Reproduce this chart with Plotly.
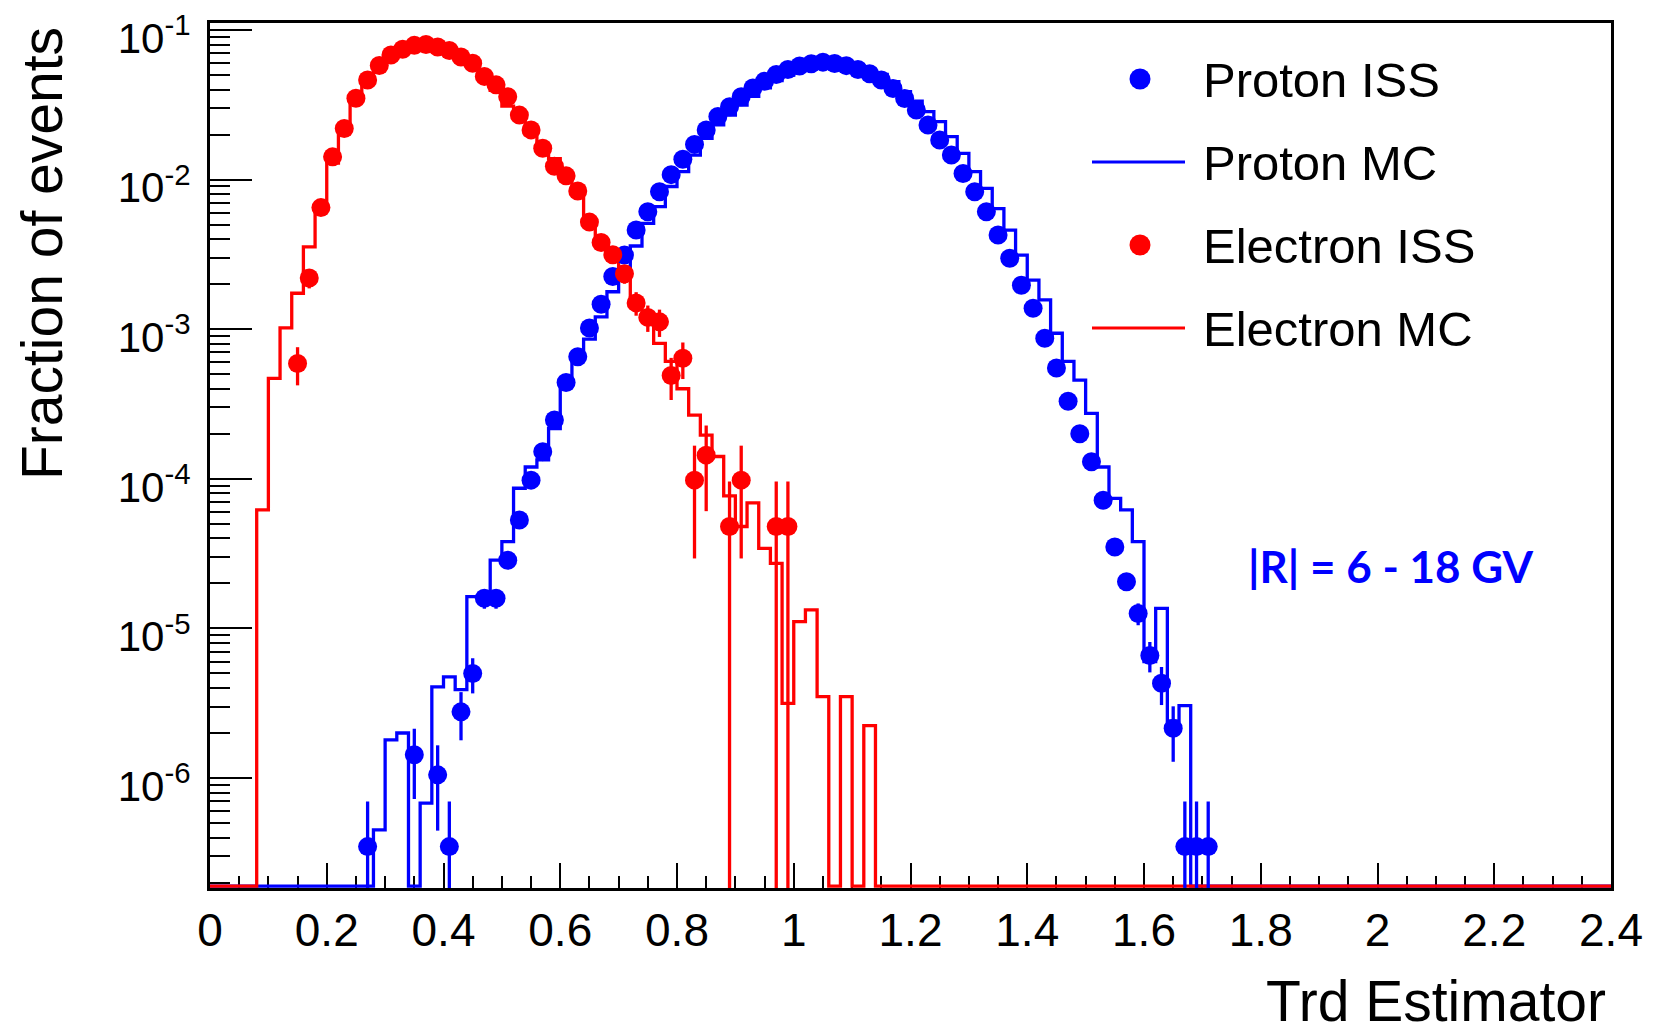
import numpy as np
import plotly.graph_objects as go

# binning of the Trd estimator histograms
BIN_W = 0.02
N_BINS = 120
edges = np.round(np.arange(N_BINS + 1) * BIN_W, 4)

# total events (sets the poisson error bars)
N_PROTON = 2.87e6
N_ELECTRON = 2.08e4

# --- Proton ISS (points at bin centres)
proton_iss_x = [0.27, 0.35, 0.39, 0.41, 0.43, 0.45, 0.47, 0.49, 0.51, 0.53, 0.55, 0.57, 0.59,
                0.61, 0.63, 0.65, 0.67, 0.69, 0.71, 0.73, 0.75, 0.77, 0.79, 0.81, 0.83, 0.85,
                0.87, 0.89, 0.91, 0.93, 0.95, 0.97, 0.99, 1.01, 1.03, 1.05, 1.07, 1.09, 1.11,
                1.13, 1.15, 1.17, 1.19, 1.21, 1.23, 1.25, 1.27, 1.29, 1.31, 1.33, 1.35, 1.37,
                1.39, 1.41, 1.43, 1.45, 1.47, 1.49, 1.51, 1.53, 1.55, 1.57, 1.59, 1.61, 1.63,
                1.65, 1.67, 1.69, 1.71]
proton_iss_y = [3.48e-7, 1.43e-6, 1.05e-6, 3.48e-7, 2.77e-6, 5.0e-6, 1.59e-5, 1.59e-5, 2.86e-5,
                5.3e-5, 9.8e-5, 1.52e-4, 2.47e-4, 4.4e-4, 6.55e-4, 1.02e-3, 1.47e-3, 2.25e-3,
                3.13e-3, 4.6e-3, 6.1e-3, 8.3e-3, 1.08e-2, 1.37e-2, 1.72e-2, 2.15e-2, 2.64e-2,
                3.07e-2, 3.58e-2, 4.1e-2, 4.55e-2, 5.05e-2, 5.45e-2, 5.75e-2, 5.95e-2, 6.1e-2,
                5.98e-2, 5.78e-2, 5.45e-2, 5.1e-2, 4.63e-2, 4.07e-2, 3.49e-2, 2.92e-2, 2.32e-2,
                1.84e-2, 1.46e-2, 1.10e-2, 8.3e-3, 6.1e-3, 4.27e-3, 2.98e-3, 1.97e-3, 1.38e-3,
                8.7e-4, 5.5e-4, 3.3e-4, 2.0e-4, 1.30e-4, 7.2e-5, 3.5e-5, 2.05e-5, 1.26e-5,
                6.6e-6, 4.3e-6, 2.15e-6, 3.48e-7, 3.48e-7, 3.48e-7]

# --- Proton MC (bin contents from 0.28 upward, zero elsewhere)
proton_mc_start = 0.28
proton_mc = [4.5e-7, 1.8e-6, 2.0e-6, 0, 6.8e-7, 4.07e-6, 4.75e-6, 3.9e-6, 1.63e-5, 1.63e-5,
             2.86e-5, 3.8e-5, 8.65e-5, 1.2e-4, 1.34e-4, 2.17e-4, 4.2e-4, 6.3e-4, 8.6e-4, 1.21e-3,
             1.78e-3, 2.6e-3, 3.6e-3, 5.1e-3, 6.6e-3, 9.0e-3, 1.13e-2, 1.46e-2, 1.89e-2, 2.32e-2,
             2.7e-2, 3.15e-2, 3.6e-2, 4.1e-2, 4.6e-2, 5.0e-2, 5.4e-2, 5.7e-2, 5.9e-2, 6.0e-2,
             5.95e-2, 5.75e-2, 5.45e-2, 5.05e-2, 4.52e-2, 3.87e-2, 3.35e-2, 2.85e-2, 2.44e-2,
             1.94e-2, 1.50e-2, 1.13e-2, 8.75e-3, 6.4e-3, 4.6e-3, 3.13e-3, 2.13e-3, 1.57e-3,
             9.4e-4, 6.1e-4, 4.57e-4, 2.74e-4, 1.2e-4, 7.4e-5, 6.2e-5, 3.8e-5, 6.0e-6, 1.36e-5,
             2.4e-6, 3.05e-6]

# --- Electron ISS
electron_iss_x = [0.15, 0.17, 0.19, 0.21, 0.23, 0.25, 0.27, 0.29, 0.31, 0.33, 0.35, 0.37, 0.39,
                  0.41, 0.43, 0.45, 0.47, 0.49, 0.51, 0.53, 0.55, 0.57, 0.59, 0.61, 0.63, 0.65,
                  0.67, 0.69, 0.71, 0.73, 0.75, 0.77, 0.79, 0.81, 0.83, 0.85, 0.89, 0.91, 0.97,
                  0.99]
electron_iss_y = [5.9e-4, 2.2e-3, 6.5e-3, 1.42e-2, 2.2e-2, 3.5e-2, 4.64e-2, 5.8e-2, 6.8e-2,
                  7.45e-2, 7.9e-2, 8.0e-2, 7.7e-2, 7.3e-2, 6.6e-2, 6.0e-2, 4.9e-2, 4.3e-2,
                  3.58e-2, 2.7e-2, 2.15e-2, 1.62e-2, 1.23e-2, 1.06e-2, 8.4e-3, 5.2e-3, 3.8e-3,
                  3.15e-3, 2.35e-3, 1.5e-3, 1.2e-3, 1.12e-3, 4.9e-4, 6.4e-4, 9.8e-5, 1.44e-4,
                  4.8e-5, 9.8e-5, 4.8e-5, 4.8e-5]

# --- Electron MC (bin contents from 0.08 upward)
electron_mc_start = 0.08
electron_mc = [6.2e-5, 4.7e-4, 1.02e-3, 1.74e-3, 3.55e-3, 6.8e-3, 1.29e-2, 2.25e-2, 3.7e-2,
               4.85e-2, 5.9e-2, 6.9e-2, 7.5e-2, 7.9e-2, 8.0e-2, 7.8e-2, 7.4e-2, 6.8e-2, 6.1e-2,
               5.0e-2, 3.95e-2, 3.1e-2, 2.65e-2, 2.0e-2, 1.6e-2, 1.38e-2, 1.08e-2, 9.0e-3,
               5.5e-3, 4.0e-3, 3.2e-3, 2.45e-3, 1.57e-3, 1.21e-3, 8.05e-4, 6.1e-4, 4.0e-4,
               2.67e-4, 1.96e-4, 1.41e-4, 7.7e-5, 4.8e-5, 6.9e-5, 3.43e-5, 2.72e-5, 3.16e-6,
               1.11e-5, 1.33e-5, 3.5e-6, 0, 3.5e-6, 0, 2.24e-6]

x_ticks = [0, 0.2, 0.4, 0.6, 0.8, 1, 1.2, 1.4, 1.6, 1.8, 2, 2.2, 2.4]
x_ticktext = ["0", "0.2", "0.4", "0.6", "0.8", "1", "1.2", "1.4", "1.6", "1.8", "2", "2.2", "2.4"]
y_decades = [-6, -5, -4, -3, -2, -1]

BLUE = "#0000ff"
RED = "#ff0000"

# y range in log10 units, empty bins get drawn on the frame bottom like ROOT does
Y_LO, Y_HI = -6.735, -0.953
FLOOR = 10 ** (Y_LO + 0.012)


def full_hist(start, vals):
    h = np.zeros(N_BINS)
    i0 = int(round(start / BIN_W))
    h[i0:i0 + len(vals)] = vals
    return h


def step_xy(h):
    y = np.where(h > 0, h, FLOOR)
    return edges, np.append(y, y[-1])


def poisson_err(y, n):
    y = np.asarray(y)
    err = np.sqrt(y * n) / n
    lo = np.where(y - err > y * 1e-3, err, y - 1e-9)
    return err, lo


fig = go.Figure()

x, y = step_xy(full_hist(proton_mc_start, proton_mc))
fig.add_trace(go.Scatter(x=x, y=y, mode="lines", line=dict(color=BLUE, width=3.3, shape="hv"),
                         name="Proton MC"))
x, y = step_xy(full_hist(electron_mc_start, electron_mc))
fig.add_trace(go.Scatter(x=x, y=y, mode="lines", line=dict(color=RED, width=3.3, shape="hv"),
                         name="Electron MC"))

up, lo = poisson_err(proton_iss_y, N_PROTON)
fig.add_trace(go.Scatter(x=proton_iss_x, y=proton_iss_y, mode="markers", name="Proton ISS",
                         marker=dict(size=19, color=BLUE),
                         error_y=dict(type="data", symmetric=False, array=up, arrayminus=lo,
                                      thickness=3.3, width=0, color=BLUE)))
up, lo = poisson_err(electron_iss_y, N_ELECTRON)
fig.add_trace(go.Scatter(x=electron_iss_x, y=electron_iss_y, mode="markers", name="Electron ISS",
                         marker=dict(size=19, color=RED),
                         error_y=dict(type="data", symmetric=False, array=up, arrayminus=lo,
                                      thickness=3.3, width=0, color=RED)))

FONT = "Liberation Sans, Arial, sans-serif"
NARROW = "Liberation Sans Narrow, Arial Narrow, Liberation Sans, sans-serif"

fig.update_xaxes(range=[0, 2.4], tickmode="array", tickvals=x_ticks, ticktext=x_ticktext,
                 ticks="inside", ticklen=25, tickwidth=2, tickcolor="black",
                 minor=dict(ticks="inside", ticklen=12, tickwidth=2, tickcolor="black",
                            tick0=0, dtick=0.05, showgrid=False),
                 showline=True, linewidth=3, linecolor="black", mirror=True,
                 showgrid=False, zeroline=False, layer="below traces", automargin=False,
                 ticklabeloverflow="allow",
                 tickfont=dict(family=NARROW, size=46, color="black"), ticklabelstandoff=0)

minor_vals = [m * 10.0 ** d for d in range(-7, -1) for m in range(2, 10)]
fig.update_yaxes(type="log", range=[Y_LO, Y_HI], tickmode="array",
                 tickvals=[10.0 ** d for d in y_decades],
                 ticktext=["10<sup>%d</sup>" % d for d in y_decades],
                 ticks="inside", ticklen=42, tickwidth=2, tickcolor="black",
                 minor=dict(ticks="inside", ticklen=20, tickwidth=2, tickcolor="black",
                            tickmode="array", tickvals=minor_vals, showgrid=False),
                 showline=True, linewidth=3, linecolor="black", mirror=True,
                 showgrid=False, zeroline=False, layer="below traces", automargin=False,
                 ticklabeloverflow="allow", ticklabelshift=8,
                 tickfont=dict(family=NARROW, size=42, color="black"), ticklabelstandoff=8)

# the page puts the figure 8 px in from the top-left corner (body margin),
# so the frame below is given in window pixels: x 210..1611, y 23..888
PAGE_OFF = 8
FIG_W, FIG_H = 1656 - PAGE_OFF, 1036 - PAGE_OFF
PX_L, PX_R, PX_T, PX_B = 210, 1611, 23, 888


def px(xp):
    return (xp - PX_L) / (PX_R - PX_L)


def py(yp):
    return (PX_B - yp) / (PX_B - PX_T)


annotations = [
    dict(text="Trd Estimator", x=1, xanchor="right", xshift=-4, y=py(1034), yanchor="bottom",
         borderpad=0, font=dict(family=FONT, size=57, color="black")),
    dict(text="Fraction of events", textangle=-90, x=px(42), xanchor="center", y=py(254),
         yanchor="middle", font=dict(family=FONT, size=57, color="black")),
    dict(text="<b>|R| = 6 - 18 GV</b>", x=px(1391), xanchor="center", y=py(566),
         yanchor="middle", font=dict(family="Lato, Open Sans, sans-serif", size=44, color=BLUE)),
]

# hand-made legend, same layout as the ROOT TLegend
legend_rows = [("Proton ISS", "marker", BLUE, 79),
               ("Proton MC", "line", BLUE, 162),
               ("Electron ISS", "marker", RED, 245),
               ("Electron MC", "line", RED, 328)]
shapes = []
for label, kind, col, yrow in legend_rows:
    if kind == "marker":
        shapes.append(dict(type="circle", xref="paper", yref="paper", xsizemode="pixel",
                           ysizemode="pixel", xanchor=px(1140), yanchor=py(yrow),
                           x0=-10.5, x1=10.5, y0=-10.5, y1=10.5,
                           fillcolor=col, line=dict(width=0)))
    else:
        shapes.append(dict(type="line", xref="paper", yref="paper", x0=px(1092), x1=px(1185),
                           y0=py(yrow), y1=py(yrow), line=dict(color=col, width=3)))
    annotations.append(dict(text=label, x=px(1201), xanchor="left", y=py(yrow + 1),
                            yanchor="middle", font=dict(family=FONT, size=49, color="black")))

for a in annotations:
    a.update(xref="paper", yref="paper", showarrow=False)

fig.update_layout(width=FIG_W, height=FIG_H,
                  margin=dict(l=PX_L - PAGE_OFF, r=FIG_W - (PX_R - PAGE_OFF),
                              t=PX_T - PAGE_OFF, b=FIG_H - (PX_B - PAGE_OFF)),
                  plot_bgcolor="white", paper_bgcolor="white", showlegend=False,
                  annotations=annotations, shapes=shapes, font=dict(family=FONT))

fig.write_html("out.html")
